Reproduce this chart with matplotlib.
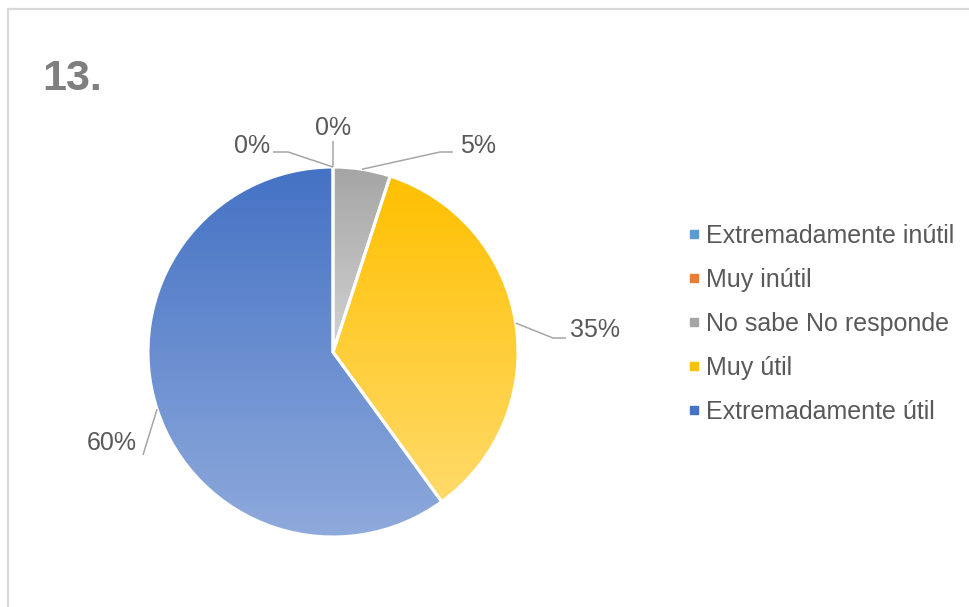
import numpy as np
import matplotlib.pyplot as plt
from matplotlib.colors import to_rgb
from matplotlib.lines import Line2D

plt.rcParams['font.family'] = ['Liberation Sans', 'DejaVu Sans']

categorias = ['Extremadamente inútil', 'Muy inútil', 'No sabe No responde',
              'Muy útil', 'Extremadamente útil']
porcentajes = [0, 0, 5, 35, 60]
colores = ['#5B9BD5', '#ED7D31', '#A5A5A5', '#FFC000', '#4472C4']
# tono claro al pie de cada degradado
colores_claros = ['#9DC3E6', '#F4B183', '#D3D3D3', '#FFDA6A', '#8FAADC']

W, H = 969, 607
fig = plt.figure(figsize=(W / 100, H / 100), dpi=100)
ax = fig.add_axes([0, 0, 1, 1])

cx, cy, r = 333, H - 352, 185
texto = '#595959'

wedges, _ = ax.pie(porcentajes, startangle=90, counterclock=False,
                   center=(cx, cy), radius=r, frame=True,
                   wedgeprops=dict(edgecolor='white', linewidth=2.2))

# relleno degradado vertical dentro de cada sector
for w, c0, c1 in zip(wedges, colores, colores_claros):
    if w.theta2 - w.theta1 <= 0:
        continue
    t = np.radians(np.linspace(w.theta1, w.theta2, 200))
    xs = np.concatenate([[cx], cx + r * np.cos(t)])
    ys = np.concatenate([[cy], cy + r * np.sin(t)])
    g = np.linspace(0, 1, 256)[:, None]
    img = (1 - g) * np.array(to_rgb(c0)) + g * np.array(to_rgb(c1))
    im = ax.imshow(img[:, None, :], extent=(xs.min(), xs.max(), ys.min(), ys.max()),
                   origin='upper', aspect='auto', zorder=1, interpolation='bilinear')
    im.set_clip_path(w)
    w.set_facecolor('none')
    w.set_zorder(2)

# etiquetas de porcentaje con lineas guia
pos_texto = [(252, 146), (333, 128), (478, 146), (595, 330), (112, 443)]
codos = [(288, 152), (333, 141), (440, 152), (553, 338), (143, 455)]
finales = [(273, 152), (333, 141), (453, 152), (566, 338), (143, 455)]
for w, v, (tx, ty), (ex, ey), (fx, fy) in zip(wedges, porcentajes, pos_texto, codos, finales):
    a = np.radians((w.theta1 + w.theta2) / 2)
    ax0, ay0 = cx + r * np.cos(a), cy + r * np.sin(a)
    ax.plot([ax0, ex, fx], [ay0, H - ey, H - fy], color='#A6A6A6', lw=1.1, zorder=3,
            solid_capstyle='butt')
    ax.text(tx, H - ty, f'{v}%', fontsize=18, color=texto, ha='center', va='center', zorder=4)

ax.text(42, H - 79, '13.', fontsize=31, fontweight='bold', color='#7F7F7F', va='center')

# borde del area del grafico
ax.plot([8, 8], [0, H - 9], color='#D9D9D9', lw=1.6)
ax.plot([8, W], [H - 9, H - 9], color='#D9D9D9', lw=1.6)

handles = [Line2D([], [], ls='none', marker='s', markersize=5.5, color=c) for c in colores]
leg = ax.legend(handles, categorias, loc='center left', bbox_to_anchor=(675, H - 324),
                bbox_transform=ax.transData, frameon=False, fontsize=18,
                labelcolor=texto, handlelength=0.5, handletextpad=0.25, labelspacing=0.80,
                borderpad=0)

ax.set_xlim(0, W)
ax.set_ylim(0, H)
ax.axis('off')

fig.savefig('out.png', dpi=100)
